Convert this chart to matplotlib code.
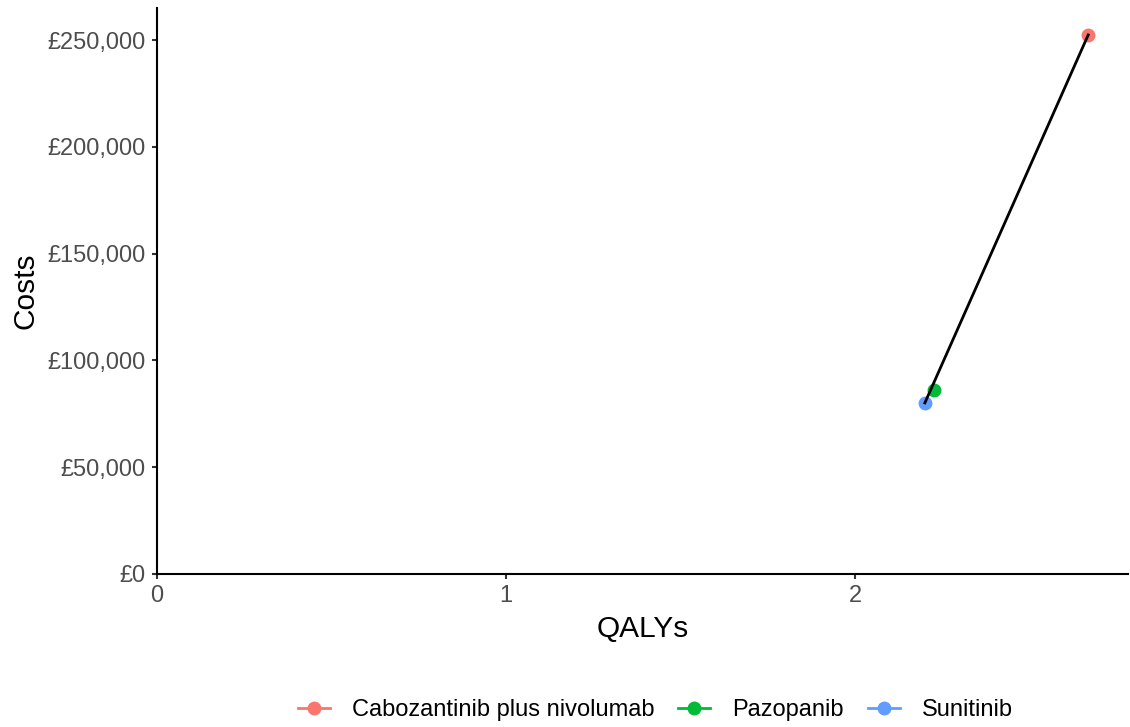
import matplotlib
matplotlib.use("Agg")
import matplotlib.pyplot as plt
from matplotlib.ticker import FuncFormatter
from matplotlib.lines import Line2D

plt.rcParams['font.family'] = ['Liberation Sans', 'DejaVu Sans']

# data
treatments = ['Cabozantinib plus nivolumab', 'Pazopanib', 'Sunitinib']
qalys = [2.668, 2.226, 2.200]
costs = [252400, 86100, 80100]
colours = ['#F8766D', '#00BA38', '#619CFF']

# efficiency frontier
frontier_qalys = [2.200, 2.668]
frontier_costs = [80100, 252400]

fig = plt.figure(figsize=(11.3, 7.27), dpi=100)
ax = fig.add_axes([157 / 1130, 1 - 574 / 727, (1128 - 157) / 1130, (574 - 8) / 727])

for t, q, c, col in zip(treatments, qalys, costs, colours):
    ax.scatter(q, c, s=100, color=col, zorder=2, linewidths=0)
ax.plot(frontier_qalys, frontier_costs, color='black', lw=2, zorder=3)

ax.set_xlim(0, 2.782)
ax.set_ylim(0, 265000)
ax.set_xticks([0, 1, 2])
ax.set_yticks([0, 50000, 100000, 150000, 200000, 250000])
ax.yaxis.set_major_formatter(FuncFormatter(lambda v, p: '£{:,.0f}'.format(v)))

for s in ['top', 'right']:
    ax.spines[s].set_visible(False)
for s in ['left', 'bottom']:
    ax.spines[s].set_linewidth(1.5)
ax.tick_params(axis='both', labelsize=17, labelcolor='#4D4D4D', width=1.5,
               length=3.5, color='#333333', pad=4.5)
ax.set_xlabel('QALYs', fontsize=21.5, labelpad=6)
ax.set_ylabel('Costs', fontsize=21.5, labelpad=6)

handles = [Line2D([0], [0], color=col, marker='o', markersize=9, lw=2)
           for col in colours]
fig.legend(handles, treatments, loc='center', bbox_to_anchor=(0.58, 1 - 710 / 727),
           ncol=3, frameon=False, fontsize=17, handlelength=1.35, columnspacing=1.0,
           handletextpad=0.95)

fig.savefig('out.png', dpi=100)
